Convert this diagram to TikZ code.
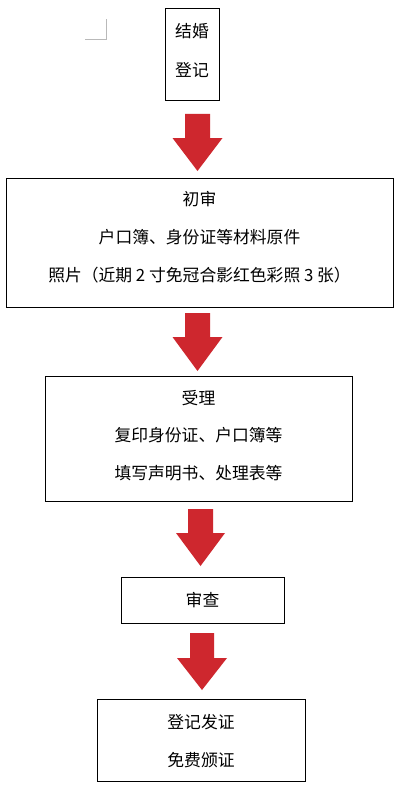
\documentclass[tikz,border=0pt]{standalone}
\usepackage{fontspec}
\newfontfamily\cjk{Noto Sans CJK SC}
\definecolor{arrowred}{RGB}{206,39,46}
\begin{document}
\begin{tikzpicture}[x=1pt,y=-1pt,
  box/.style={draw=black,line width=1pt,inner sep=0pt},
  txt/.style={align=center,inner sep=0pt,font=\cjk\fontsize{16.8}{38}\selectfont},
  redarrow/.style={fill=arrowred,draw=none}]
\useasboundingbox (0,0) rectangle (403,789);
\fill[white] (0,0) rectangle (403,789);
% corner mark
\draw[gray!55,line width=0.8pt] (85,39.5) -- (106,39.5) -- (106,19);
% boxes
\node[box,minimum width=54pt,minimum height=92pt] (b1) at (192,55) {};
\node[box,minimum width=387pt,minimum height=129pt] (b2) at (199.5,242.5) {};
\node[box,minimum width=307pt,minimum height=125pt] (b3) at (198.5,438.5) {};
\node[box,minimum width=163pt,minimum height=46pt] (b4) at (202.5,600) {};
\node[box,minimum width=208pt,minimum height=82pt] (b5) at (201,740) {};
% texts
\node[txt,font=\cjk\fontsize{16.8}{39}\selectfont] (t1) at (192,50.5) {结婚\\登记};
\node[txt] (t2) at (199.5,237.5) {初审\\户口簿、身份证等材料原件\\照片（近期 2 寸免冠合影红色彩照 3 张）};
\node[txt,font=\cjk\fontsize{16.8}{37.5}\selectfont] (t3) at (198.5,435.5) {受理\\复印身份证、户口簿等\\填写声明书、处理表等};
\node[txt] (t4) at (202.5,600) {审查};
\node[txt] (t5) at (201,741) {登记发证\\免费颁证};
% block arrows
\newcommand{\blockarrow}[6]{% center x, shaft half, head half, top, head start, tip
  \fill[redarrow] (#1-#2,#4) -- (#1+#2,#4) -- (#1+#2,#5) -- (#1+#3,#5) -- (#1,#6) -- (#1-#3,#5) -- (#1-#2,#5) -- cycle;}
\blockarrow{197.5}{12.5}{25}{114}{138}{171}
\blockarrow{197.5}{12.5}{25}{313}{337}{371}
\blockarrow{200.5}{12.5}{24.5}{509}{533}{566}
\blockarrow{202}{12}{25}{633}{658}{690}
\end{tikzpicture}
\end{document}
